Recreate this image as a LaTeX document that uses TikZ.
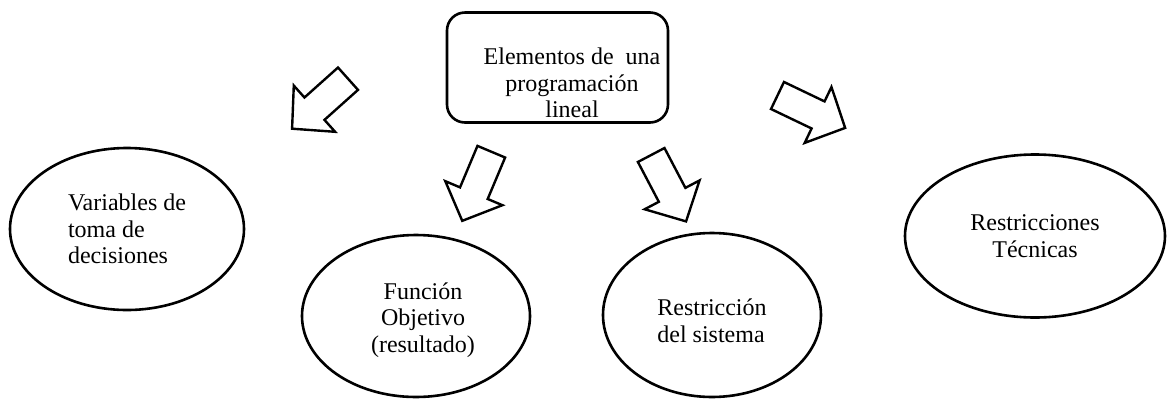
\documentclass[tikz,border=0pt]{standalone}
\usepackage{fontspec}
\setmainfont{Liberation Serif}
\usetikzlibrary{shapes.geometric}
\begin{document}
\begin{tikzpicture}[x=0.5pt, y=0.5pt, font=\fontsize{12}{13.3}\selectfont]
    \tikzstyle{caja} = [rectangle, draw, line width=1.3pt, rounded corners=9pt, minimum width=110.5pt, minimum height=55pt]
    \tikzstyle{elip} = [ellipse, draw, line width=1.3pt, inner sep=0pt]
    \tikzstyle{flechalinea} = [draw, line width=1.2pt, line join=miter, fill=white]
    \tikzset{flecha/.pic={\path[flechalinea] (0,-15) -- (45,-15) -- (45,-31) -- (75,0) -- (45,31) -- (45,15) -- (0,15) -- cycle;}}
    \useasboundingbox (0,0) rectangle (1175,-398);

    \node [caja] (e) at (557.5,-67.5) {};
    \node [align=center] (et) at (572,-83) {Elementos de\ \ una\\programación\\lineal};
    \node [elip, minimum width=117pt, minimum height=81pt, align=left] (v) at (127,-229) {Variables de\\toma de\\decisiones};
    \node [elip, minimum width=114pt, minimum height=81pt] (f) at (416,-316) {};
    \node [align=center] (ft) at (423,-320) {Función\\Objetivo\\(resultado)};
    \node [elip, minimum width=109pt, minimum height=82pt] (r) at (712,-315) {};
    \node [align=left] (rt) at (712,-321) {Restricción\\del sistema};
    \node [elip, minimum width=130pt, minimum height=81.5pt, align=center] (t) at (1035,-236) {Restricciones\\Técnicas};

    \coordinate (a1) at (348,-78.7);
    \coordinate (a2) at (491.3,-151.7);
    \coordinate (a3) at (651.2,-155);
    \coordinate (a4) at (777.5,-95.5);
    \pic [rotate=221.8] at (a1) {flecha};
    \pic [rotate=247.2] at (a2) {flecha};
    \pic [rotate=-62.3] at (a3) {flecha};
    \pic [rotate=-25.6] at (a4) {flecha};
\end{tikzpicture}
\end{document}
